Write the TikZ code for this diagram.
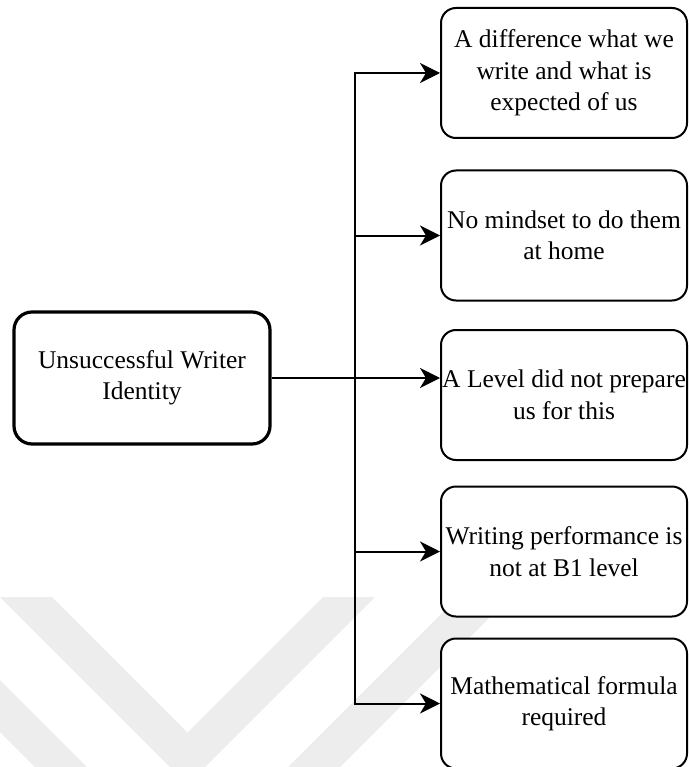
\documentclass[tikz,border=0pt]{standalone}
\usepackage{fontspec}
\setmainfont{Liberation Serif}
\usetikzlibrary{arrows.meta}
\newcommand{\boxfont}{\fontsize{25.5}{31.5}\selectfont}

\begin{document}
\begin{tikzpicture}[x=1pt, y=-1pt,
  rootbox/.style={draw, line width=3.2pt, rounded corners=18pt, fill=white,
    minimum width=256pt, minimum height=132pt, inner sep=0pt,
    align=center, font=\boxfont},
  leafbox/.style={draw, line width=2pt, rounded corners=15pt, fill=white,
    minimum width=246pt, minimum height=130pt, inner sep=0pt,
    align=center, font=\boxfont},
  link/.style={line width=2pt,
    -{Stealth[length=20pt, width=20pt, inset=6pt]}},
  chevron/.style={fill=black!7, draw=none}
]
\useasboundingbox (0,0) rectangle (688,767);

% faint chevron bands in the background
\path[chevron] (0,597) -- (52,597) -- (187.5,732.5) -- (323,597) -- (375,597)
  -- (187.5,784.5) -- cycle;
\path[chevron] (-135,597) -- (-83,597) -- (187.5,867.5) -- (458,597)
  -- (510,597) -- (187.5,919.5) -- cycle;

% nodes
\node[rootbox] (root) at (142,378) {Unsuccessful Writer\\Identity};
\node[leafbox] (b1) at (564,73)    {A difference what we\\write and what is\\expected of us};
\node[leafbox] (b2) at (564,235.5) {No mindset to do them\\at home};
\node[leafbox] (b3) at (564,395)   {A Level did not prepare\\us for this};
\node[leafbox] (b4) at (564,551.5) {Writing performance is\\not at B1 level};
\node[leafbox] (b5) at (564,703.5) {Mathematical formula\\required};

% branching point on the trunk
\coordinate (fork) at (355,378);

% connectors
\draw[link] (root.east) -- (root.east -| b3.west);
\draw[link] (fork) |- (b1.west);
\draw[link] (fork) |- (b2.west);
\draw[link] (fork) |- (b4.west);
\draw[link] (fork) |- (b5.west);
\end{tikzpicture}
\end{document}
